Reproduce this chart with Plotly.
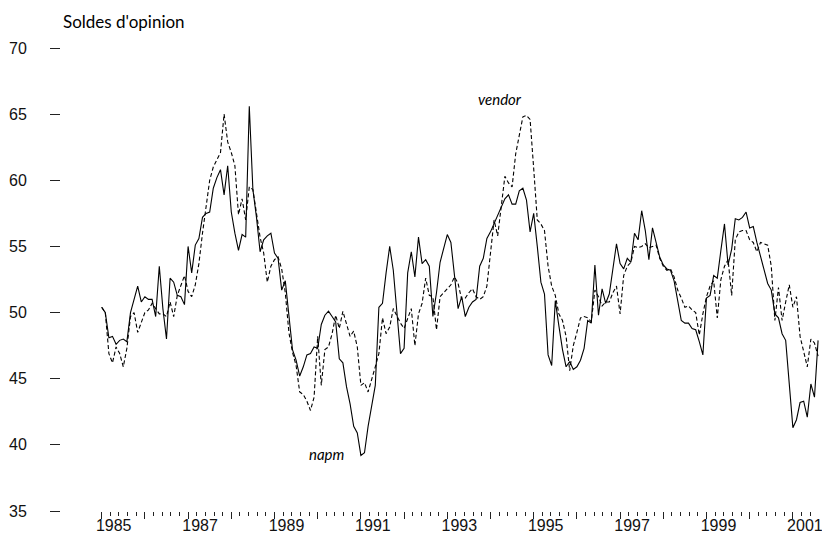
import plotly.graph_objects as go

# Monthly survey balances, January 1985 onwards
start_year = 1985
napm = [
    50.4, 50.0, 48.1, 48.2, 47.6, 47.9, 48.0, 47.8, 50.0, 51.0, 52.0, 50.8,
    51.2, 51.0, 51.0, 49.7, 53.5, 50.3, 48.0, 52.6, 52.3, 51.3, 51.2, 50.6,
    55.0, 53.0, 55.1, 55.6, 57.2, 57.5, 57.6, 59.4, 60.2, 60.8, 58.9, 61.1,
    57.6, 56.0, 54.7, 55.9, 55.7, 65.6, 59.3, 57.2, 54.6, 55.5, 55.8, 56.0,
    54.5, 54.1, 51.7, 52.4, 49.7, 47.2, 46.4, 45.2, 45.9, 46.8, 46.9, 47.4,
    47.3, 49.1, 49.8, 50.1, 49.7, 49.3, 46.5, 46.2, 44.4, 43.1, 41.4, 40.9,
    39.2, 39.4, 41.4, 43.1, 44.5, 50.4, 50.7, 53.0, 55.0, 53.2, 50.2, 46.9,
    47.3, 53.0, 54.6, 52.7, 55.7, 53.7, 54.0, 53.5, 49.7, 51.5, 53.8, 54.8,
    55.9, 55.3, 53.0, 50.3, 51.2, 49.7, 50.4, 50.8, 51.0, 53.5, 54.1, 55.6,
    56.1, 56.7, 57.3, 57.9, 58.6, 58.9, 58.2, 58.2, 59.2, 59.4, 58.5, 56.1,
    57.5, 55.0, 52.3, 51.4, 46.8, 46.0, 50.9, 49.0, 47.2, 45.9, 46.3, 45.7,
    45.9, 46.4, 47.3, 49.4, 49.2, 53.6, 49.8, 51.8, 50.7, 51.4, 53.3, 55.2,
    53.7, 53.3, 54.1, 53.8, 56.0, 55.5, 57.7, 56.2, 54.0, 56.4, 55.3, 54.2,
    53.6, 53.3, 53.2, 52.4, 50.9, 49.4, 49.2, 49.2, 48.8, 48.7, 47.8, 46.8,
    51.1, 51.3, 52.8, 52.6, 54.7, 56.7, 53.6, 54.8, 57.1, 57.0, 57.2, 57.6,
    56.4, 56.5, 55.3, 54.2, 53.2, 52.2, 51.7, 49.9, 49.6, 48.4, 47.9, 44.4,
    41.3, 41.9, 43.2, 43.3, 42.1, 44.6, 43.6, 47.9,
]
vendor = [
    50.4, 50.0, 46.9, 46.2, 47.4, 46.9, 45.9, 47.3, 49.7, 50.0, 48.5, 49.3,
    50.0, 50.2, 50.7, 50.3, 49.9, 49.9, 49.7, 50.8, 49.7, 51.3, 52.1, 52.8,
    51.6, 51.2, 52.1, 53.7, 56.0, 58.0, 60.0, 61.0, 61.5, 62.1, 65.0, 62.9,
    62.1, 61.1, 57.4, 58.6, 57.0, 59.5, 59.3, 57.5, 55.7, 54.5, 52.3, 53.5,
    54.0, 54.2, 53.3, 51.5, 48.5, 47.0, 46.0, 44.0, 43.8, 43.3, 42.6, 43.6,
    48.2, 44.5, 47.2, 47.4, 48.4, 49.8, 48.8, 50.1, 49.2, 48.2, 48.6, 47.4,
    44.5, 44.7, 44.0, 44.9, 45.9, 46.9, 49.6, 48.4, 48.9, 50.3, 49.7, 49.2,
    48.8, 49.5, 50.3, 47.5, 49.9, 50.7, 52.6, 51.3, 51.2, 48.7, 51.2, 51.5,
    51.8, 52.1, 52.7, 52.2, 51.0, 51.1, 51.5, 51.8, 51.2, 51.0, 51.2, 52.0,
    54.5, 57.0, 55.8, 58.2, 60.3, 59.8, 59.5, 62.0, 63.5, 64.8, 64.9, 64.6,
    60.9, 57.0, 56.7, 56.2, 53.5, 52.0, 51.3, 49.9, 49.4, 48.2, 45.6, 47.5,
    48.5, 49.6, 49.7, 49.6, 49.3, 51.7, 51.2, 50.5, 50.8, 50.8, 51.5, 52.0,
    49.9, 52.8, 53.5, 53.8, 55.0, 54.9, 55.0, 55.2, 54.9, 55.0, 55.1, 54.1,
    53.5, 53.2, 53.3, 52.7, 51.7, 51.1, 50.4, 50.5, 50.2, 50.0, 48.3, 49.9,
    51.2, 52.0, 52.4, 49.6, 52.5, 53.5, 54.0, 51.3, 55.5, 56.1, 56.2, 56.2,
    55.5, 55.3, 54.6, 55.3, 55.2, 55.1, 53.5, 49.4, 51.9, 49.4, 50.8, 52.1,
    50.4, 51.2, 48.2, 47.0, 45.9, 48.0, 47.7, 46.7,
]
years = list(range(1985, 2002))
year_labels = [str(y) if y % 2 == 1 else "" for y in years]
y_ticks = [35, 40, 45, 50, 55, 60, 65, 70]

# decimal-year position of each monthly observation
t = [start_year + i / 12 for i in range(len(napm))]
minor_vals = [y + k / 5 for y in years for k in range(1, 5) if y + k / 5 < 2001.5]

num_font = dict(family="Liberation Sans, Arial, sans-serif", size=16, color="#111")
txt_font = "Lato, Open Sans, sans-serif"

fig = go.Figure()
fig.add_trace(go.Scatter(x=t, y=napm, mode="lines", name="napm",
                         line=dict(color="black", width=1.1)))
fig.add_trace(go.Scatter(x=t, y=vendor, mode="lines", name="vendor",
                         line=dict(color="black", width=1.1, dash="4px,2.5px")))

fig.update_layout(
    width=822, height=539,
    margin=dict(l=61, r=0, t=48, b=28),
    paper_bgcolor="white", plot_bgcolor="white",
    showlegend=False,
    xaxis=dict(
        range=[1984.058, 2001.674],
        tickmode="array", tickvals=years, ticktext=year_labels,
        ticks="outside", ticklen=7, tickwidth=1, tickcolor="#222",
        ticklabelshift=12, ticklabelstandoff=-7, ticklabeloverflow="allow",
        showline=False, showgrid=False, zeroline=False,
        tickfont=num_font,
        minor=dict(tickmode="array", tickvals=minor_vals, ticks="outside",
                   ticklen=4, tickwidth=1, tickcolor="#222", showgrid=False),
    ),
    yaxis=dict(
        range=[35, 70],
        tickmode="array", tickvals=y_ticks,
        ticks="outside", ticklen=10, tickwidth=1, tickcolor="#222",
        ticklabelstandoff=20, ticklabeloverflow="allow",
        showline=False, showgrid=False, zeroline=False,
        tickfont=num_font,
    ),
    annotations=[
        dict(text="Soldes d'opinion", xref="paper", yref="paper",
             x=0.0, y=1.058, xanchor="left", yanchor="middle",
             showarrow=False, font=dict(family=txt_font, size=17, color="black")),
        dict(text="<i>vendor</i>", x=1994.22, y=66.13, xref="x", yref="y",
             showarrow=False, font=dict(family=txt_font, size=15, color="black")),
        dict(text="<i>napm</i>", x=1990.215, y=39.31, xref="x", yref="y",
             showarrow=False, font=dict(family=txt_font, size=15, color="black")),
    ],
)

fig.write_html("out.html")
